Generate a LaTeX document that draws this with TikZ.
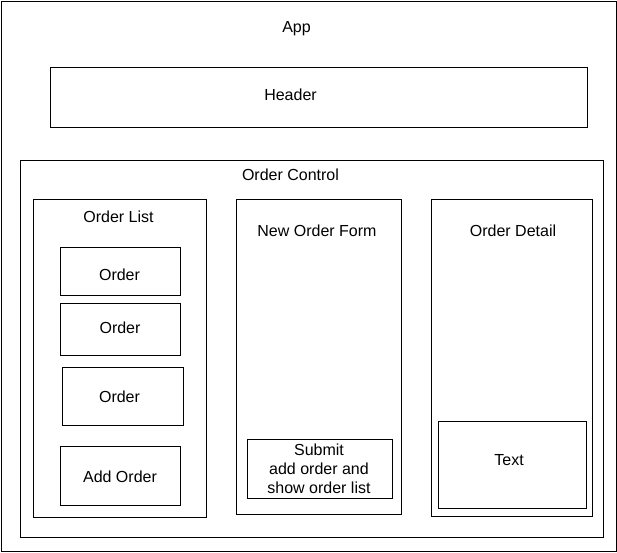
\documentclass[tikz,border=0pt]{standalone}
\usepackage{fontspec}
\setmainfont{Liberation Sans}
\usepackage{tikz}
\usetikzlibrary{positioning}

\tikzset{
  box/.style={draw, line width=1.1pt, rectangle, inner sep=0pt, anchor=north west},
  lbl/.style={inner sep=0pt, anchor=base, align=center, font=\fontsize{16}{19}\selectfont}
}

\begin{document}
\begin{tikzpicture}[x=1pt, y=-1pt]
\useasboundingbox (0,0) rectangle (617,552);

% Containers
\node[box, minimum width=615pt, minimum height=550.5pt] (app) at (0.6,0.6) {};
\node[box, minimum width=537pt, minimum height=60pt] (header) at (50,67) {};
\node[box, minimum width=583pt, minimum height=377pt] (control) at (19.5,159.5) {};
\node[box, minimum width=173pt, minimum height=318pt] (list) at (33,199) {};
\node[box, minimum width=165pt, minimum height=315pt] (form) at (235.5,199) {};
\node[box, minimum width=161pt, minimum height=317pt] (detail) at (431,199) {};

% Order list items
\node[box, minimum width=120pt, minimum height=48pt] (order1) at (60,247) {};
\node[box, minimum width=120pt, minimum height=52pt] (order2) at (60,303) {};
\node[box, minimum width=121pt, minimum height=58pt] (order3) at (62,367) {};
\node[box, minimum width=120pt, minimum height=59pt] (addorder) at (60,446) {};

% Form and detail contents
\node[box, minimum width=145pt, minimum height=59pt] (submit) at (247,439) {};
\node[box, minimum width=148pt, minimum height=87pt] (text) at (438,421) {};

% Labels
\node[lbl] (applbl) at (296.5,32) {App};
\node[lbl] (headerlbl) at (290.5,100) {Header};
\node[lbl] (controllbl) at (290.5,180) {Order Control};
\node[lbl] (listlbl) at (118.5,222.8) {Order List};
\node[lbl] (formlbl) at (317,236) {New Order Form};
\node[lbl] (detaillbl) at (513,236) {Order Detail};
\node[lbl] (order1lbl) at (119.5,280.7) {Order};
\node[lbl] (order2lbl) at (120,333.5) {Order};
\node[lbl] (order3lbl) at (119.5,402.5) {Order};
\node[lbl] (addorderlbl) at (120,482.8) {Add Order};
\node[lbl, anchor=north] (submitlbl) at (319,443.5) {Submit\\add order and\\show order list};
\node[lbl] (textlbl) at (509,465) {Text};

\end{tikzpicture}
\end{document}
